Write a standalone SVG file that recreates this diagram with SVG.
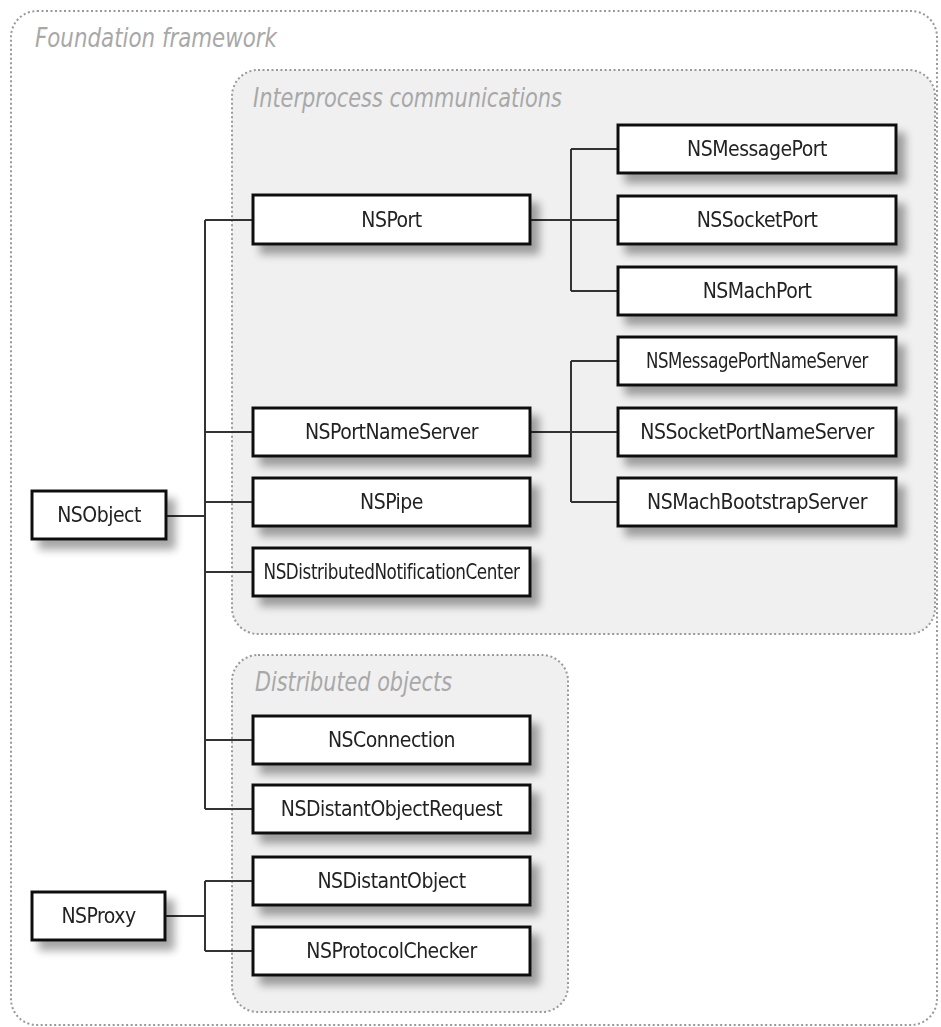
<svg xmlns="http://www.w3.org/2000/svg" width="941" height="1027" viewBox="0 0 941 1027">
<defs>
<filter id="sh" x="-10%" y="-30%" width="130%" height="180%">
<feGaussianBlur in="SourceAlpha" stdDeviation="4"/>
<feOffset dx="8" dy="9" result="b"/>
<feComponentTransfer><feFuncA type="linear" slope="0.35"/></feComponentTransfer>
<feMerge><feMergeNode/><feMergeNode in="SourceGraphic"/></feMerge>
</filter>
</defs>
<style>
.frame{fill:none;stroke:#999;stroke-width:2;stroke-dasharray:2 2.5}
.sub{fill:#f0f0f0;stroke:#999;stroke-width:2;stroke-dasharray:2 2.5}
.title{font-family:"DejaVu Sans Condensed","DejaVu Sans",sans-serif;font-style:italic;fill:#a8a8a8;font-size:27px}
.box{fill:#fff;stroke:#111;stroke-width:3}
.lbl{font-family:"DejaVu Sans Condensed","DejaVu Sans",sans-serif;font-size:21px;letter-spacing:-0.5px;fill:#222;text-anchor:middle;dominant-baseline:central}
.con{fill:none;stroke:#333;stroke-width:2}
</style>
<rect class="frame" x="11" y="11" width="926" height="1014" rx="26"/>
<text class="title" x="35" y="47" textLength="242" lengthAdjust="spacingAndGlyphs">Foundation framework</text>
<rect class="sub" x="232" y="70" width="703" height="564" rx="26"/>
<text class="title" x="253" y="107" textLength="309" lengthAdjust="spacingAndGlyphs">Interprocess communications</text>
<rect class="sub" x="232" y="655" width="336" height="357" rx="26"/>
<text class="title" x="255" y="691" textLength="197" lengthAdjust="spacingAndGlyphs">Distributed objects</text>
<g id="connectors">
<path class="con" d="M166 516H205M205 220V809M205 220H253M205 432H253M205 502H253M205 572H253M205 740H253M205 809H253"/>
<path class="con" d="M530 220H618M571 149V291M571 149H618M571 291H618"/>
<path class="con" d="M530 432H618M571 361V502M571 361H618M571 502H618"/>
<path class="con" d="M165 916H205M205 881V951M205 881H253M205 951H253"/>
</g>
<g id="NSObject" filter="url(#sh)"><rect class="box" x="32" y="491" width="134" height="48"/><text class="lbl" x="99" y="515">NSObject</text></g>
<g id="NSProxy" filter="url(#sh)"><rect class="box" x="32" y="892" width="133" height="48"/><text class="lbl" x="98.5" y="916">NSProxy</text></g>
<g id="NSPort" filter="url(#sh)"><rect class="box" x="253" y="195" width="277" height="49"/><text class="lbl" x="391.5" y="220">NSPort</text></g>
<g id="NSPortNameServer" filter="url(#sh)"><rect class="box" x="253" y="408" width="277" height="48"/><text class="lbl" x="391.5" y="432">NSPortNameServer</text></g>
<g id="NSPipe" filter="url(#sh)"><rect class="box" x="253" y="478" width="277" height="48"/><text class="lbl" x="391.5" y="502">NSPipe</text></g>
<g id="NSDistributedNotificationCenter" filter="url(#sh)"><rect class="box" x="253" y="548" width="277" height="48"/><text class="lbl" x="391.5" y="572" font-size="18" textLength="256" lengthAdjust="spacingAndGlyphs">NSDistributedNotificationCenter</text></g>
<g id="NSMessagePort" filter="url(#sh)"><rect class="box" x="618" y="125" width="278" height="48"/><text class="lbl" x="757" y="149">NSMessagePort</text></g>
<g id="NSSocketPort" filter="url(#sh)"><rect class="box" x="618" y="196" width="278" height="48"/><text class="lbl" x="757" y="220">NSSocketPort</text></g>
<g id="NSMachPort" filter="url(#sh)"><rect class="box" x="618" y="267" width="278" height="48"/><text class="lbl" x="757" y="291">NSMachPort</text></g>
<g id="NSMessagePortNameServer" filter="url(#sh)"><rect class="box" x="618" y="337" width="278" height="48"/><text class="lbl" x="757" y="361" font-size="18" textLength="222" lengthAdjust="spacingAndGlyphs">NSMessagePortNameServer</text></g>
<g id="NSSocketPortNameServer" filter="url(#sh)"><rect class="box" x="618" y="408" width="278" height="48"/><text class="lbl" x="757" y="432">NSSocketPortNameServer</text></g>
<g id="NSMachBootstrapServer" filter="url(#sh)"><rect class="box" x="618" y="478" width="278" height="48"/><text class="lbl" x="757" y="502">NSMachBootstrapServer</text></g>
<g id="NSConnection" filter="url(#sh)"><rect class="box" x="253" y="716" width="277" height="48"/><text class="lbl" x="391.5" y="740">NSConnection</text></g>
<g id="NSDistantObjectRequest" filter="url(#sh)"><rect class="box" x="253" y="785" width="277" height="48"/><text class="lbl" x="391.5" y="809">NSDistantObjectRequest</text></g>
<g id="NSDistantObject" filter="url(#sh)"><rect class="box" x="253" y="857" width="277" height="48"/><text class="lbl" x="391.5" y="881">NSDistantObject</text></g>
<g id="NSProtocolChecker" filter="url(#sh)"><rect class="box" x="253" y="927" width="277" height="48"/><text class="lbl" x="391.5" y="951">NSProtocolChecker</text></g>
</svg>
